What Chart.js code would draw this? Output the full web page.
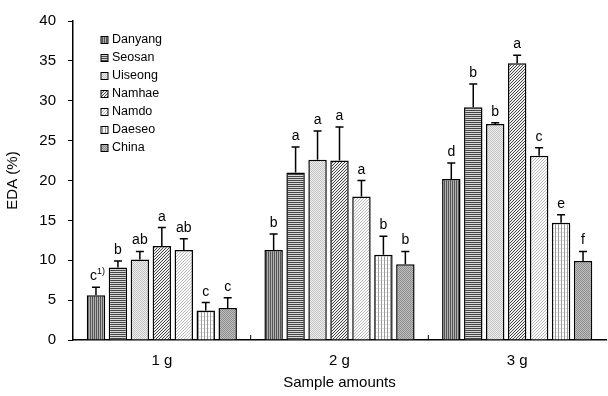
<!DOCTYPE html>
<html>
<head>
<meta charset="utf-8">
<script src="https://cdn.jsdelivr.net/npm/chart.js@4"></script>
<style>
  html, body { margin: 0; padding: 0; background: #fff; }
  #wrap { width: 608px; height: 396px; }
</style>
</head>
<body>
<div id="wrap"><canvas id="eda"></canvas></div>
<script>
const categories = ['1 g', '2 g', '3 g']
const names = ['Danyang', 'Seosan', 'Uiseong', 'Namhae', 'Namdo', 'Daeseo', 'China']

const danyang = [5.6, 11.3, 20.2]
const seosan = [9.1, 21.0, 29.2]
const uiseong = [10.1, 22.6, 27.1]
const namhae = [11.8, 22.5, 34.7]
const namdo = [11.3, 18.0, 23.1]
const daeseo = [3.7, 10.7, 14.7]
const china = [4.0, 9.5, 9.9]

const danyangSd = [1.0, 2.0, 2.0]
const seosanSd = [0.8, 3.2, 2.9]
const uiseongSd = [1.0, 3.6, 0.15]
const namhaeSd = [2.3, 4.2, 1.0]
const namdoSd = [1.4, 2.0, 1.0]
const daeseoSd = [1.0, 2.3, 1.0]
const chinaSd = [1.3, 1.6, 1.2]

const danyangSig = ['c', 'b', 'd']
const seosanSig = ['b', 'a', 'b']
const uiseongSig = ['ab', 'a', 'b']
const namhaeSig = ['a', 'a', 'a']
const namdoSig = ['ab', 'a', 'c']
const daeseoSig = ['c', 'b', 'e']
const chinaSig = ['c', 'b', 'f']

const FONT = '"Liberation Sans", Arial, sans-serif'

// small tiles for the hatch fills
function tile(w, h, draw) {
    const c = document.createElement('canvas')
    c.width = w; c.height = h
    const g = c.getContext('2d')
    draw(g)
    return document.getElementById('eda').getContext('2d').createPattern(c, 'repeat')
}

const fills = [
    tile(2, 2, g => { g.fillStyle = '#b0b0b0'; g.fillRect(0, 0, 2, 2); g.fillStyle = '#555'; g.fillRect(0, 0, 1, 2) }),
    tile(2, 2, g => { g.fillStyle = '#d8d8d8'; g.fillRect(0, 0, 2, 2); g.fillStyle = '#444'; g.fillRect(0, 0, 2, 1) }),
    tile(2, 2, g => { g.fillStyle = '#eeeeee'; g.fillRect(0, 0, 2, 2); g.fillStyle = '#c4c4c4'; g.fillRect(0, 0, 1, 1); g.fillRect(1, 1, 1, 1) }),
    tile(3, 3, g => { g.fillStyle = '#f0f0f0'; g.fillRect(0, 0, 3, 3); g.fillStyle = '#444'; g.fillRect(2, 0, 1, 1); g.fillRect(1, 1, 1, 1); g.fillRect(0, 2, 1, 1) }),
    tile(3, 3, g => { g.fillStyle = '#ffffff'; g.fillRect(0, 0, 3, 3); g.fillStyle = '#b8b8b8'; g.fillRect(0, 0, 1, 1); g.fillRect(2, 1, 1, 1); g.fillRect(1, 2, 1, 1) }),
    tile(3, 4, g => { g.fillStyle = '#ffffff'; g.fillRect(0, 0, 3, 4); g.fillStyle = '#9a9a9a'; g.fillRect(0, 0, 1, 4); g.fillStyle = '#e4e4e4'; g.fillRect(1, 0, 2, 1) }),
    tile(2, 2, g => { g.fillStyle = '#bdbdbd'; g.fillRect(0, 0, 2, 2); g.fillStyle = '#8e8e8e'; g.fillRect(0, 0, 1, 1); g.fillRect(1, 1, 1, 1) })
]

const values = [danyang, seosan, uiseong, namhae, namdo, daeseo, china]
const sds = [danyangSd, seosanSd, uiseongSd, namhaeSd, namdoSd, daeseoSd, chinaSd]
const sigs = [danyangSig, seosanSig, uiseongSig, namhaeSig, namdoSig, daeseoSig, chinaSig]

const errorBars = {
    id: 'errorBars',
    afterDatasetsDraw(chart) {
        const ctx = chart.ctx
        const y = chart.scales.y
        ctx.save()
        ctx.strokeStyle = '#000'
        ctx.lineWidth = 1.5
        ctx.fillStyle = '#000'
        ctx.textAlign = 'center'
        ctx.textBaseline = 'alphabetic'
        chart.data.datasets.forEach((ds, i) => {
            chart.getDatasetMeta(i).data.forEach((bar, j) => {
                const top = y.getPixelForValue(ds.data[j] + sds[i][j])
                ctx.beginPath()
                ctx.moveTo(bar.x, bar.y)
                ctx.lineTo(bar.x, top)
                ctx.moveTo(bar.x - 4, top)
                ctx.lineTo(bar.x + 4, top)
                ctx.stroke()
                ctx.font = '14px ' + FONT
                const letter = sigs[i][j]
                if (i === 0 && j === 0) {
                    // footnote mark on the first letter
                    ctx.textAlign = 'right'
                    ctx.fillText(letter, bar.x + 1, top - 7)
                    ctx.font = '9px ' + FONT
                    ctx.textAlign = 'left'
                    ctx.fillText('1)', bar.x + 1, top - 13)
                    ctx.textAlign = 'center'
                } else {
                    ctx.fillText(letter, bar.x, top - 7)
                }
            })
        })
        // inward ticks on the x axis between groups
        const x = chart.scales.x
        ctx.lineWidth = 1
        for (let k = 1; k < categories.length; k++) {
            const bx = (x.getPixelForTick(k - 1) + x.getPixelForTick(k)) / 2
            ctx.beginPath()
            ctx.moveTo(bx, y.bottom)
            ctx.lineTo(bx, y.bottom - 5)
            ctx.stroke()
        }
        ctx.restore()
    }
}

const boxLegend = {
    id: 'boxLegend',
    afterDraw(chart) {
        const ctx = chart.ctx
        const a = chart.chartArea
        ctx.save()
        ctx.font = '12.5px ' + FONT
        ctx.textBaseline = 'middle'
        chart.data.datasets.forEach((ds, i) => {
            const cx = a.left + 28
            const cy = a.top + 19 + i * 18
            ctx.fillStyle = ds.backgroundColor
            ctx.fillRect(cx, cy - 3.5, 7, 7)
            ctx.strokeStyle = '#000'
            ctx.lineWidth = 1
            ctx.strokeRect(cx, cy - 3.5, 7, 7)
            ctx.fillStyle = '#000'
            ctx.fillText(ds.label, cx + 11, cy)
        })
        ctx.restore()
    }
}

new Chart(document.getElementById('eda'), {
    type: 'bar',
    data: {
        labels: categories,
        datasets: names.map((n, i) => ({
            label: n,
            data: values[i],
            backgroundColor: fills[i],
            borderColor: '#000',
            borderWidth: 1.5,
            categoryPercentage: 0.865,
            barPercentage: 0.84
        }))
    },
    options: {
        responsive: true,
        maintainAspectRatio: false,
        animation: false,
        layout: { padding: { top: 20, right: 2, left: 0, bottom: 0 } },
        plugins: {
            legend: { display: false },
            tooltip: { enabled: false }
        },
        scales: {
            x: {
                grid: { display: false },
                border: { display: true, color: '#000', width: 1.5 },
                ticks: { color: '#000', font: { family: FONT, size: 15 }, padding: 4 },
                title: { display: true, text: 'Sample amounts', color: '#000', font: { family: FONT, size: 15 }, padding: { top: 6 } },
                afterFit: s => { s.height = 56 }
            },
            y: {
                min: 0,
                max: 40,
                ticks: { stepSize: 5, color: '#000', font: { family: FONT, size: 15 }, padding: 12 },
                grid: { drawOnChartArea: false, drawTicks: true, tickLength: 5, color: '#000' },
                border: { display: true, color: '#000', width: 1.5 },
                title: { display: true, text: 'EDA (%)', color: '#000', font: { family: FONT, size: 15 }, padding: { bottom: 0 } },
                afterFit: s => { s.width = 73 }
            }
        }
    },
    plugins: [errorBars, boxLegend]
});
</script>
</body>
</html>
